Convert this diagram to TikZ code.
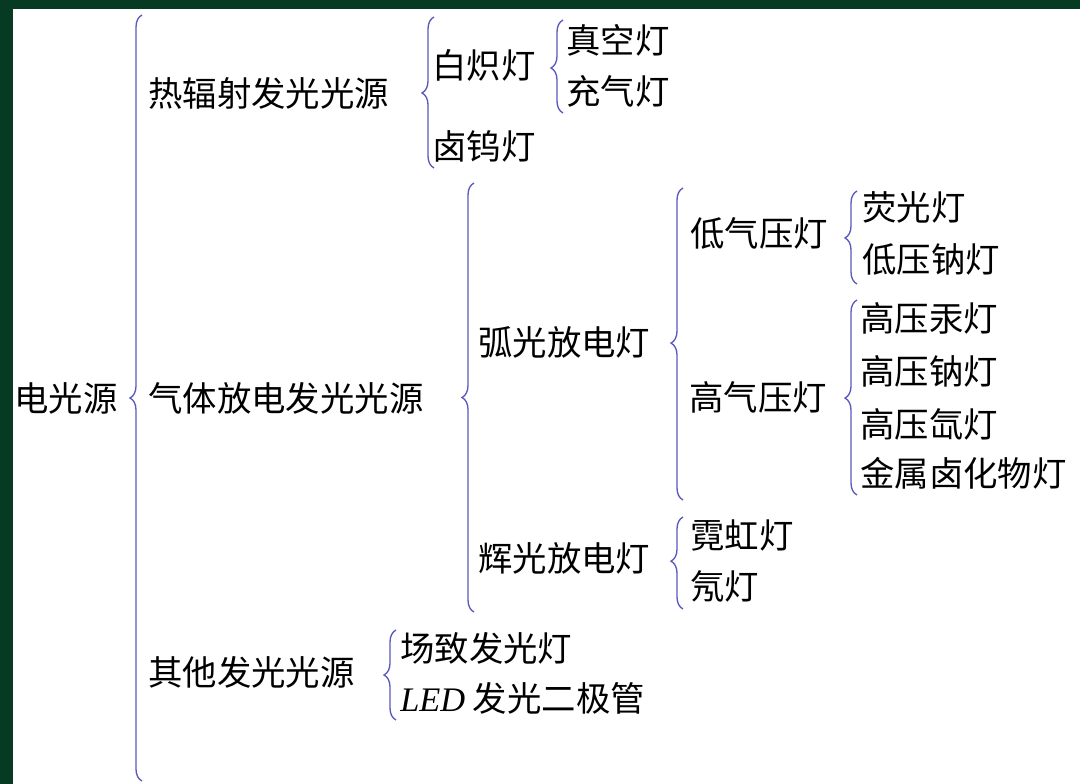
\documentclass[tikz,border=0pt]{standalone}
\usepackage{fontspec}
\newfontfamily\cjk{Noto Sans CJK SC}
\newfontfamily\latinserif{Liberation Serif}
\usetikzlibrary{decorations.pathreplacing}
\definecolor{framecol}{RGB}{6,58,34}
\definecolor{bracecol}{RGB}{90,90,190}
\begin{document}
\begin{tikzpicture}[x=0.75pt,y=-0.75pt,
  lbl/.style={anchor=west, inner sep=0pt, font=\cjk\fontsize{25.8}{26}\selectfont, text=black},
  brc/.style={draw=bracecol, line width=1pt, decorate, decoration={brace, amplitude=9pt, aspect=#1}}]
\useasboundingbox (0,0) rectangle (1080,784);
\fill[framecol] (0,0) rectangle (1080,784);
\fill[white] (13,9) rectangle (1080,784);

% labels
\node[lbl] (root) at (14,398) {电光源};
\node[lbl] (thermal) at (148,93) {热辐射发光光源};
\node[lbl] (gas) at (148,398) {气体放电发光光源};
\node[lbl] (other) at (148,672) {其他发光光源};
\node[lbl] (incand) at (432,65) {白炽灯};
\node[lbl] (halogen) at (432,146) {卤钨灯};
\node[lbl] (vacuum) at (566,40) {真空灯};
\node[lbl] (gasfill) at (566,91) {充气灯};
\node[lbl] (arc) at (478,342) {弧光放电灯};
\node[lbl] (glow) at (478,558) {辉光放电灯};
\node[lbl] (lowp) at (690,233) {低气压灯};
\node[lbl] (highp) at (689,397) {高气压灯};
\node[lbl] (fluor) at (862,207) {荧光灯};
\node[lbl] (lps) at (862,259) {低压钠灯};
\node[lbl] (hgl) at (860,318) {高压汞灯};
\node[lbl] (hps) at (860,371) {高压钠灯};
\node[lbl] (xen) at (860,424) {高压氙灯};
\node[lbl] (mh) at (860,473) {金属卤化物灯};
\node[lbl] (neon) at (690,535) {霓虹灯};
\node[lbl] (ne) at (690,586) {氖灯};
\node[lbl] (el) at (400,648) {场致发光灯};
\node[lbl] (led) at (400,698) {{\latinserif\itshape LED} 发光二极管};

% brace end points
\coordinate (b1t) at (142,15);  \coordinate (b1b) at (142,781);
\coordinate (b2t) at (434,17);  \coordinate (b2b) at (434,168);
\coordinate (b3t) at (563,20);  \coordinate (b3b) at (563,113);
\coordinate (b4t) at (474,183); \coordinate (b4b) at (474,612);
\coordinate (b5t) at (683,188); \coordinate (b5b) at (683,500);
\coordinate (b6t) at (857,191); \coordinate (b6b) at (857,284);
\coordinate (b7t) at (857,300); \coordinate (b7b) at (857,495);
\coordinate (b8t) at (683,517); \coordinate (b8b) at (683,609);
\coordinate (b9t) at (396,630); \coordinate (b9b) at (396,720);

\draw[brc=0.5] (b1b) -- (b1t);
\draw[brc=0.497] (b2b) -- (b2t);
\draw[brc=0.484] (b3b) -- (b3t);
\draw[brc=0.50] (b4b) -- (b4t);
\draw[brc=0.503] (b5b) -- (b5t);
\draw[brc=0.495] (b6b) -- (b6t);
\draw[brc=0.497] (b7b) -- (b7t);
\draw[brc=0.52] (b8b) -- (b8t);
\draw[brc=0.5] (b9b) -- (b9t);
\end{tikzpicture}
\end{document}
